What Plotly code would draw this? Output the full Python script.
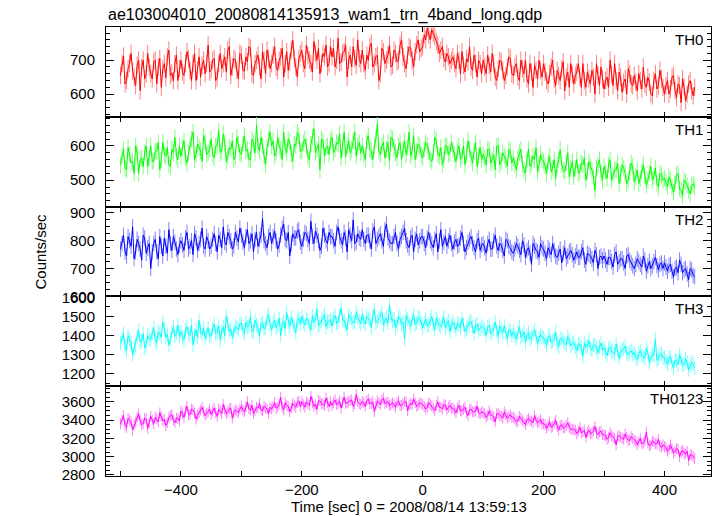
import plotly.graph_objects as go
from plotly.subplots import make_subplots

TITLE = "ae103004010_20080814135913_wam1_trn_4band_long.qdp"
X_TITLE = "Time [sec] 0 = 2008/08/14 13:59:13"
Y_TITLE = "Counts/sec"
T_START = -500
T_STEP = 5
T_MID_START = -497.5

names = ["TH0", "TH1", "TH2", "TH3", "TH0123"]

th0 = [655, 712, 640, 690, 668, 625, 700, 678, 645, 720,
       660, 695, 630, 705, 675, 648, 730, 662, 690, 640,
       700, 655, 725, 670, 690, 640, 710, 685, 660, 745,
       672, 705, 650, 720, 690, 665, 740, 680, 700, 645,
       715, 668, 695, 735, 655, 700, 680, 725, 660, 705,
       690, 740, 670, 710, 650, 725, 695, 760, 680, 705,
       730, 675, 715, 690, 755, 700, 660, 720, 745, 690,
       710, 680, 765, 695, 725, 650, 715, 740, 685, 705,
       730, 670, 700, 750, 690, 715, 660, 725, 700, 745,
       685, 720, 700, 760, 690, 715, 735, 680, 745, 725,
       740, 760, 775, 790, 770, 745, 730, 705, 720, 690,
       710, 675, 700, 725, 665, 695, 680, 715, 650, 690,
       700, 660, 685, 720, 650, 675, 695, 640, 680, 705,
       655, 690, 640, 675, 700, 630, 665, 685, 645, 670,
       690, 640, 660, 700, 625, 655, 675, 610, 665, 690,
       630, 665, 650, 690, 620, 645, 670, 600, 655, 680,
       615, 650, 700, 625, 640, 665, 605, 645, 675, 630,
       655, 610, 640, 680, 620, 635, 595, 660, 625, 645,
       600, 640, 615, 655, 590, 625, 645, 580, 630, 610,
       620]
th0_mid = [690, 630, 675, 720, 650, 685, 610, 700, 660, 680,
           645, 700, 680, 620, 690, 710, 655, 640, 715, 675,
           665, 690, 705, 640, 720, 670, 650, 700, 690, 665,
           700, 640, 690, 675, 710, 730, 655, 705, 670, 720,
           670, 710, 740, 660, 690, 715, 645, 700, 730, 675,
           715, 680, 700, 735, 690, 670, 730, 705, 650, 720,
           690, 745, 700, 665, 720, 735, 690, 710, 680, 740,
           735, 700, 690, 720, 745, 700, 680, 705, 760, 690,
           690, 715, 740, 680, 710, 640, 735, 690, 715, 680,
           730, 695, 745, 710, 675, 740, 700, 725, 760, 735,
           775, 795, 760, 780, 755, 720, 740, 695, 710, 700,
           690, 720, 660, 685, 705, 740, 670, 690, 700, 660,
           680, 715, 665, 690, 640, 700, 670, 655, 710, 660,
           680, 650, 700, 660, 645, 690, 620, 670, 700, 650,
           665, 630, 680, 645, 670, 640, 695, 650, 620, 660,
           655, 690, 620, 640, 665, 630, 650, 690, 625, 645,
           640, 620, 660, 690, 610, 650, 635, 600, 660, 625,
           635, 660, 615, 630, 650, 600, 640, 615, 670, 620,
           625, 600, 650, 610, 630, 575, 620, 600, 640, 595]

th1 = [545, 590, 530, 575, 555, 600, 520, 565, 580, 540,
       600, 555, 585, 530, 610, 570, 545, 590, 625, 560,
       570, 615, 550, 600, 640, 575, 595, 555, 610, 580,
       620, 565, 600, 580, 635, 555, 595, 615, 570, 605,
       575, 630, 590, 560, 610, 660, 585, 600, 545, 620,
       600, 570, 625, 590, 640, 580, 610, 555, 600, 630,
       585, 620, 570, 605, 650, 590, 530, 615, 595, 575,
       625, 590, 605, 565, 640, 600, 580, 615, 570, 610,
       600, 560, 630, 585, 600, 665, 575, 610, 590, 555,
       620, 580, 600, 560, 615, 595, 570, 630, 585, 600,
       565, 610, 585, 555, 625, 575, 595, 560, 600, 580,
       590, 555, 600, 570, 545, 615, 565, 585, 540, 595,
       575, 545, 590, 560, 530, 600, 555, 570, 540, 585,
       565, 530, 580, 545, 520, 590, 550, 560, 525, 575,
       555, 520, 570, 535, 505, 560, 545, 525, 580, 535,
       510, 560, 525, 545, 500, 555, 530, 470, 545, 520,
       540, 505, 560, 515, 530, 490, 545, 520, 500, 550,
       495, 530, 505, 545, 485, 520, 500, 535, 480, 515,
       505, 480, 500, 465, 515, 475, 455, 495, 470, 485,
       480]
th1_mid = [570, 535, 595, 550, 520, 580, 560, 540, 600, 565,
           555, 585, 610, 560, 575, 595, 540, 580, 570, 600,
           595, 565, 580, 620, 560, 605, 585, 630, 575, 590,
           575, 600, 645, 585, 610, 570, 590, 560, 625, 580,
           605, 585, 560, 620, 580, 600, 625, 570, 595, 640,
           615, 580, 600, 560, 595, 620, 575, 605, 640, 585,
           610, 600, 560, 625, 580, 605, 620, 570, 600, 615,
           580, 610, 635, 595, 570, 615, 590, 640, 600, 580,
           575, 615, 590, 560, 620, 585, 600, 565, 610, 625,
           595, 565, 610, 590, 575, 640, 585, 560, 605, 575,
           590, 600, 560, 580, 615, 570, 545, 600, 575, 610,
           575, 585, 560, 600, 575, 590, 550, 610, 570, 560,
           565, 590, 550, 575, 600, 545, 580, 560, 590, 550,
           545, 565, 590, 530, 560, 540, 570, 595, 545, 560,
           540, 555, 525, 560, 545, 590, 530, 550, 510, 555,
           535, 520, 550, 565, 525, 540, 510, 535, 560, 500,
           525, 545, 500, 530, 550, 515, 535, 490, 525, 540,
           510, 490, 525, 515, 500, 540, 510, 490, 520, 500,
           495, 510, 480, 490, 520, 470, 500, 485, 460, 490]

th2 = [770, 820, 745, 800, 850, 760, 790, 730, 810, 775,
       700, 790, 760, 815, 745, 780, 840, 765, 795, 750,
       800, 765, 830, 780, 750, 810, 790, 845, 770, 800,
       780, 825, 760, 805, 850, 785, 815, 770, 830, 795,
       820, 775, 840, 800, 760, 830, 805, 880, 790, 815,
       790, 835, 770, 820, 860, 800, 745, 825, 810, 840,
       780, 830, 805, 870, 790, 820, 765, 845, 800, 830,
       815, 780, 850, 800, 830, 760, 820, 875, 795, 810,
       840, 790, 820, 770, 850, 805, 825, 780, 860, 800,
       790, 830, 770, 815, 845, 785, 810, 760, 825, 800,
       815, 775, 830, 790, 805, 760, 840, 795, 780, 820,
       770, 805, 785, 830, 760, 795, 815, 775, 800, 765,
       790, 755, 805, 770, 820, 765, 785, 745, 800, 775,
       755, 790, 765, 800, 740, 775, 715, 780, 760, 790,
       770, 735, 765, 790, 745, 755, 720, 775, 745, 765,
       730, 760, 740, 775, 715, 750, 735, 765, 700, 745,
       745, 715, 740, 705, 760, 725, 735, 700, 750, 720,
       700, 735, 715, 745, 690, 725, 710, 740, 695, 720,
       720, 690, 715, 670, 705, 730, 685, 700, 660, 695,
       670]
th2_mid = [790, 760, 815, 780, 735, 805, 770, 820, 755, 790,
           760, 805, 735, 780, 810, 755, 790, 815, 770, 785,
           785, 810, 770, 800, 825, 765, 805, 780, 815, 770,
           805, 790, 820, 775, 795, 830, 800, 780, 810, 845,
           795, 815, 790, 825, 805, 780, 820, 800, 775, 830,
           815, 800, 785, 845, 805, 830, 790, 810, 835, 795,
           805, 825, 790, 815, 835, 800, 780, 820, 790, 815,
           800, 830, 815, 785, 810, 840, 800, 790, 825, 805,
           805, 820, 800, 835, 790, 815, 800, 840, 810, 790,
           815, 790, 805, 830, 800, 775, 820, 805, 785, 815,
           790, 810, 800, 775, 825, 800, 780, 815, 800, 790,
           795, 780, 810, 790, 775, 805, 790, 760, 810, 785,
           775, 790, 770, 800, 780, 790, 765, 805, 780, 760,
           770, 780, 750, 785, 765, 755, 790, 765, 740, 775,
           755, 775, 750, 765, 740, 770, 755, 735, 760, 750,
           745, 740, 760, 730, 755, 745, 720, 750, 740, 730,
           730, 740, 725, 750, 715, 735, 720, 745, 730, 710,
           715, 725, 705, 730, 710, 700, 725, 710, 715, 700,
           705, 710, 690, 700, 685, 715, 695, 680, 700, 675]

th3 = [1360, 1410, 1320, 1380, 1300, 1350, 1425, 1370, 1335, 1400,
       1380, 1440, 1360, 1410, 1470, 1390, 1350, 1420, 1395, 1455,
       1420, 1375, 1445, 1400, 1350, 1430, 1480, 1405, 1385, 1440,
       1400, 1460, 1415, 1375, 1445, 1500, 1420, 1390, 1450, 1430,
       1465, 1410, 1445, 1500, 1425, 1455, 1395, 1470, 1440, 1510,
       1430, 1480, 1450, 1400, 1475, 1520, 1445, 1465, 1415, 1490,
       1500, 1455, 1480, 1430, 1470, 1540, 1460, 1490, 1445, 1475,
       1450, 1505, 1470, 1545, 1480, 1430, 1495, 1465, 1520, 1475,
       1510, 1460, 1490, 1440, 1535, 1475, 1500, 1455, 1490, 1560,
       1475, 1440, 1500, 1460, 1380, 1485, 1450, 1510, 1465, 1490,
       1440, 1485, 1455, 1500, 1430, 1470, 1445, 1495, 1460, 1420,
       1470, 1430, 1455, 1490, 1420, 1450, 1475, 1410, 1460, 1435,
       1440, 1400, 1455, 1420, 1470, 1395, 1430, 1450, 1385, 1425,
       1420, 1380, 1445, 1400, 1365, 1415, 1390, 1430, 1360, 1405,
       1390, 1350, 1400, 1370, 1420, 1340, 1385, 1360, 1395, 1345,
       1365, 1320, 1355, 1290, 1340, 1375, 1325, 1350, 1310, 1360,
       1335, 1295, 1340, 1310, 1355, 1280, 1325, 1345, 1300, 1320,
       1310, 1275, 1320, 1290, 1335, 1260, 1300, 1380, 1280, 1305,
       1285, 1250, 1290, 1230, 1270, 1300, 1245, 1275, 1220, 1260,
       1230]
th3_mid = [1385, 1340, 1400, 1360, 1330, 1395, 1365, 1410, 1350, 1380,
           1410, 1375, 1420, 1390, 1435, 1405, 1380, 1445, 1410, 1395,
           1395, 1430, 1410, 1455, 1400, 1390, 1425, 1440, 1410, 1395,
           1435, 1410, 1450, 1420, 1400, 1465, 1435, 1415, 1440, 1460,
           1430, 1470, 1450, 1420, 1480, 1440, 1460, 1435, 1490, 1455,
           1465, 1440, 1490, 1460, 1435, 1470, 1495, 1450, 1480, 1460,
           1470, 1490, 1455, 1505, 1480, 1450, 1475, 1510, 1470, 1485,
           1490, 1465, 1500, 1480, 1455, 1510, 1485, 1470, 1495, 1460,
           1475, 1500, 1480, 1510, 1465, 1490, 1520, 1480, 1465, 1500,
           1485, 1460, 1490, 1470, 1505, 1465, 1480, 1455, 1495, 1470,
           1465, 1450, 1480, 1460, 1490, 1455, 1470, 1440, 1480, 1455,
           1450, 1465, 1440, 1460, 1435, 1470, 1445, 1455, 1425, 1450,
           1430, 1445, 1410, 1435, 1420, 1450, 1415, 1410, 1430, 1400,
           1400, 1415, 1390, 1420, 1400, 1380, 1410, 1395, 1385, 1390,
           1370, 1390, 1365, 1380, 1360, 1385, 1370, 1350, 1375, 1360,
           1340, 1355, 1335, 1360, 1345, 1330, 1350, 1335, 1340, 1325,
           1315, 1330, 1320, 1300, 1325, 1310, 1330, 1305, 1315, 1300,
           1290, 1305, 1295, 1280, 1310, 1285, 1295, 1270, 1300, 1285,
           1265, 1280, 1255, 1270, 1245, 1275, 1250, 1260, 1240, 1250]

th0123 = [3360, 3450, 3320, 3400, 3290, 3380, 3470, 3350, 3420, 3310,
          3440, 3360, 3410, 3480, 3390, 3340, 3430, 3460, 3370, 3420,
          3500, 3430, 3550, 3460, 3510, 3410, 3480, 3540, 3450, 3490,
          3460, 3530, 3440, 3500, 3570, 3470, 3520, 3420, 3510, 3480,
          3550, 3490, 3600, 3510, 3470, 3540, 3580, 3500, 3530, 3470,
          3520, 3590, 3540, 3650, 3510, 3560, 3490, 3580, 3540, 3610,
          3600, 3540, 3580, 3660, 3550, 3520, 3610, 3570, 3640, 3550,
          3560, 3620, 3580, 3530, 3650, 3590, 3610, 3550, 3680, 3580,
          3600, 3550, 3630, 3580, 3490, 3610, 3570, 3640, 3590, 3560,
          3590, 3540, 3610, 3560, 3600, 3500, 3580, 3630, 3550, 3590,
          3570, 3520, 3590, 3550, 3500, 3600, 3540, 3570, 3510, 3560,
          3530, 3480, 3560, 3500, 3540, 3450, 3520, 3490, 3550, 3470,
          3480, 3430, 3500, 3450, 3380, 3470, 3440, 3490, 3420, 3460,
          3430, 3380, 3440, 3400, 3350, 3420, 3390, 3450, 3370, 3410,
          3360, 3310, 3380, 3330, 3400, 3290, 3350, 3320, 3370, 3300,
          3300, 3250, 3320, 3270, 3210, 3290, 3260, 3330, 3240, 3280,
          3240, 3190, 3260, 3210, 3130, 3230, 3200, 3250, 3180, 3220,
          3180, 3130, 3200, 3150, 3270, 3120, 3170, 3140, 3190, 3100,
          3110, 3060, 3130, 3040, 3090, 3000, 3070, 3030, 2960, 3020,
          2980]
th0123_mid = [3400, 3340, 3420, 3380, 3350, 3430, 3390, 3360, 3410, 3370,
              3400, 3430, 3380, 3440, 3410, 3370, 3450, 3400, 3420, 3390,
              3470, 3500, 3460, 3520, 3480, 3450, 3510, 3490, 3470, 3520,
              3500, 3480, 3520, 3470, 3510, 3490, 3530, 3480, 3500, 3520,
              3510, 3540, 3520, 3560, 3500, 3530, 3510, 3550, 3520, 3540,
              3550, 3530, 3570, 3540, 3590, 3550, 3530, 3560, 3590, 3550,
              3570, 3600, 3560, 3590, 3570, 3610, 3580, 3560, 3590, 3600,
              3590, 3570, 3610, 3590, 3580, 3600, 3620, 3580, 3600, 3570,
              3590, 3610, 3580, 3600, 3570, 3590, 3620, 3580, 3600, 3570,
              3570, 3590, 3560, 3580, 3600, 3560, 3570, 3590, 3560, 3580,
              3550, 3540, 3570, 3530, 3560, 3540, 3520, 3560, 3540, 3530,
              3510, 3530, 3500, 3520, 3480, 3510, 3490, 3500, 3480, 3490,
              3470, 3450, 3460, 3430, 3470, 3450, 3420, 3460, 3440, 3430,
              3410, 3390, 3420, 3380, 3400, 3390, 3370, 3400, 3380, 3360,
              3350, 3340, 3320, 3360, 3330, 3340, 3310, 3340, 3320, 3300,
              3290, 3280, 3260, 3290, 3270, 3250, 3280, 3260, 3270, 3240,
              3230, 3210, 3230, 3200, 3220, 3210, 3190, 3210, 3180, 3200,
              3170, 3160, 3140, 3170, 3150, 3130, 3160, 3140, 3120, 3130,
              3100, 3080, 3090, 3060, 3080, 3050, 3040, 3060, 3020, 3000]

series = [th0, th1, th2, th3, th0123]
series_mid = [th0_mid, th1_mid, th2_mid, th3_mid, th0123_mid]
errors = [26, 24, 28, 37, 59]

y_ranges = [[533, 798], [423, 685], [599.5, 923], [1134, 1605], [2789, 3770]]
y_ticks = [[600, 700], [500, 600], [600, 700, 800, 900],
           [1200, 1300, 1400, 1500, 1600], [2800, 3000, 3200, 3400, 3600]]
y_minor = [20, 20, 25, 50, 50]
x_range = [-524, 477]

colors = ["#ff0000", "#00ff00", "#0000ff", "#00ffff", "#ff00ff"]
err_colors = ["#ff8080", "#80ff80", "#8080ff", "#80ffff", "#ff80ff"]

FONT = "Liberation Sans, Arial, Helvetica, sans-serif"

fig = make_subplots(rows=5, cols=1, shared_xaxes=True, vertical_spacing=0)

for i, vals in enumerate(series):
    mids = series_mid[i]
    t_a = [T_START + T_STEP * k for k in range(len(vals))]
    t_b = [T_MID_START + T_STEP * k for k in range(len(mids))]
    pts = sorted(zip(t_a + t_b, vals + mids))
    t = [p[0] for p in pts]
    y = [p[1] for p in pts]
    fig.add_trace(go.Scatter(
        x=t, y=y, mode="lines",
        line=dict(color=colors[i], width=1),
        error_y=dict(type="constant", value=errors[i], color=err_colors[i],
                     thickness=1, width=0),
        name=names[i], showlegend=False, hoverinfo="skip"),
        row=i + 1, col=1)
    fig.update_yaxes(
        range=y_ranges[i], tickvals=y_ticks[i], ticks="inside", ticklen=8,
        tickcolor="black", tickwidth=1, showline=True, linecolor="black",
        linewidth=1, mirror="allticks", showgrid=False, zeroline=False,
        automargin=False,
        tickfont=dict(family=FONT, size=15, color="black"),
        ticklabelstandoff=7,
        minor=dict(dtick=y_minor[i], tick0=0, ticks="inside", ticklen=4,
                   tickcolor="black", showgrid=False),
        row=i + 1, col=1)
    fig.update_xaxes(
        range=x_range, dtick=200, tick0=0, ticks="inside", ticklen=5,
        tickcolor="black", showline=True, linecolor="black", linewidth=1,
        mirror="allticks", showgrid=False, zeroline=False, automargin=False,
        tickfont=dict(family=FONT, size=15, color="black"),
        minor=dict(dtick=100, tick0=0, ticks="inside", ticklen=5,
                   tickcolor="black", showgrid=False),
        row=i + 1, col=1)

annotations = []
for i, nm in enumerate(names):
    top = 1 - 0.2 * i
    annotations.append(dict(
        text=nm, xref="paper", yref="paper", x=0.99, y=top, xanchor="right",
        yanchor="top", yshift=-2, showarrow=False,
        font=dict(family=FONT, size=15, color="black")))
annotations.append(dict(
    text=TITLE, xref="paper", yref="paper", x=0, y=1, xanchor="left",
    yanchor="bottom", yshift=1, showarrow=False,
    font=dict(family=FONT, size=16, color="black")))
annotations.append(dict(
    text=Y_TITLE, xref="paper", yref="paper", x=0, y=0.5, xanchor="center",
    yanchor="middle", xshift=-66, textangle=-90, showarrow=False,
    font=dict(family=FONT, size=15, color="black")))
annotations.append(dict(
    text=X_TITLE, xref="paper", yref="paper", x=0.5, y=0, xanchor="center",
    yanchor="top", yshift=-20, showarrow=False,
    font=dict(family=FONT, size=15, color="black")))

fig.update_layout(
    width=717, height=516,
    margin=dict(l=106, r=6, t=27, b=40),
    paper_bgcolor="white", plot_bgcolor="white",
    annotations=annotations,
    font=dict(family=FONT, color="black"),
)

# remove the browser's default 8px body margin so the figure fills the window
fig.write_html("out.html",
               config={"displayModeBar": False},
               post_script="document.body.style.margin='0px';"
                           "document.body.style.overflow='hidden';")
